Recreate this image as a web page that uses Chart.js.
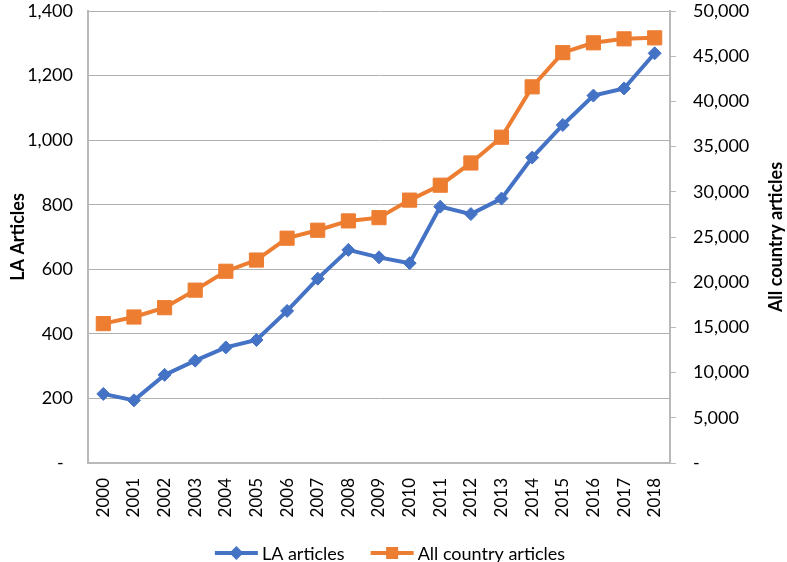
<!DOCTYPE html>
<html>
<head>
<meta charset="utf-8">
<script src="https://cdn.jsdelivr.net/npm/chart.js@4.4.0/dist/chart.umd.min.js"></script>
<style>
  html, body { margin: 0; padding: 0; background: #fff; }
  #wrap { width: 787px; height: 562px; position: relative; }
</style>
</head>
<body>
<div id="wrap"><canvas id="chart"></canvas></div>
<script>
// Publications per year: LA vs all countries.
var years = ['2000', '2001', '2002', '2003', '2004', '2005', '2006', '2007', '2008', '2009',
             '2010', '2011', '2012', '2013', '2014', '2015', '2016', '2017', '2018'];
var laArticles = [214, 194, 273, 317, 358, 381, 471, 571, 660, 637,
                  619, 794, 771, 819, 946, 1047, 1138, 1160, 1269];
var allCountryArticles = [15420, 16150, 17180, 19120, 21210, 22450, 24870, 25750, 26780, 27140,
                          29080, 30730, 33190, 36040, 41610, 45390, 46480, 46920, 47030];
var leftTicks = [0, 200, 400, 600, 800, 1000, 1200, 1400];
var rightTicks = [0, 5000, 10000, 15000, 20000, 25000, 30000, 35000, 40000, 45000, 50000];

var BLUE = '#4472c4';
var ORANGE = '#ed7d31';
var GRID = '#b0b0b0';
var AXIS = '#b9b9b9';
var FONT = 'Lato, "Liberation Sans", sans-serif';

function fmt( v, pad ) {
	if ( v === 0 ) { return pad ? '-  ' : '-'; }
	return v.toLocaleString( 'en-US' );
}

function setTicks( list ) {
	return function ( scale ) {
		scale.ticks = list.map( function ( v ) { return { value: v }; } );
	};
}

// keep the plot area flush with the top, like the Excel original
function fitSide( width ) {
	return function ( s ) {
		s.width = width;
		s.paddingTop = 8;
		s.paddingBottom = 8;
	};
}

// Right axis title reads bottom-to-top, and the legend shows line + marker.
var extras = {
	id: 'extras',
	afterDraw: function ( chart ) {
		var ctx = chart.ctx;
		var area = chart.chartArea;
		ctx.save();
		ctx.fillStyle = '#000';
		ctx.font = 'bold 18px ' + FONT;
		ctx.textAlign = 'center';
		ctx.textBaseline = 'middle';
		ctx.translate( 776, ( area.top + area.bottom ) / 2 );
		ctx.rotate( -Math.PI / 2 );
		ctx.fillText( 'All country articles', 0, 0 );
		ctx.restore();

		ctx.save();
		ctx.font = '18px ' + FONT;
		ctx.textBaseline = 'middle';
		var items = chart.data.datasets;
		var lineW = 43, gap = 4, between = 26;
		var widths = items.map( function ( d ) { return lineW + gap + ctx.measureText( d.label ).width; } );
		var total = widths.reduce( function ( a, b ) { return a + b; }, 0 ) + between * ( items.length - 1 );
		var x = 390 - total / 2;
		var y = 553;
		items.forEach( function ( d, i ) {
			ctx.strokeStyle = d.borderColor;
			ctx.lineWidth = 4;
			ctx.beginPath();
			ctx.moveTo( x, y );
			ctx.lineTo( x + lineW, y );
			ctx.stroke();
			ctx.fillStyle = d.borderColor;
			ctx.beginPath();
			var cx = x + lineW / 2;
			if ( d.pointStyle === 'rectRot' ) {
				ctx.moveTo( cx, y - 7 );
				ctx.lineTo( cx + 7, y );
				ctx.lineTo( cx, y + 7 );
				ctx.lineTo( cx - 7, y );
				ctx.closePath();
			} else {
				ctx.rect( cx - 6, y - 6, 12, 12 );
			}
			ctx.fill();
			ctx.fillStyle = '#000';
			ctx.fillText( d.label, x + lineW + gap, y + 1 );
			x += widths[ i ] + between;
		} );
		ctx.restore();
	}
};

new Chart( document.getElementById( 'chart' ), {
	type: 'line',
	data: {
		labels: years,
		datasets: [
			{
				label: 'LA articles',
				data: laArticles,
				yAxisID: 'y',
				borderColor: BLUE,
				backgroundColor: BLUE,
				borderWidth: 4,
				pointStyle: 'rectRot',
				pointRadius: 6.5,
				pointBorderWidth: 1,
				tension: 0
			},
			{
				label: 'All country articles',
				data: allCountryArticles,
				yAxisID: 'y1',
				borderColor: ORANGE,
				backgroundColor: ORANGE,
				borderWidth: 4,
				pointStyle: 'rect',
				pointRadius: 10,
				pointBorderWidth: 1,
				tension: 0
			}
		]
	},
	options: {
		responsive: true,
		maintainAspectRatio: false,
		animation: false,
		layout: { padding: { top: 0, left: 0, right: 0, bottom: 30 } },
		plugins: {
			legend: { display: false },
			tooltip: { enabled: false }
		},
		scales: {
			x: {
				offset: true,
				grid: { display: false, drawTicks: false },
				border: { display: true, color: AXIS, width: 2 },
				ticks: {
					color: '#000',
					font: { family: FONT, size: 17, lineHeight: 1 },
					minRotation: 90,
					maxRotation: 90,
					padding: 15,
					autoSkip: false
				},
				afterFit: function ( s ) { s.height = 69; }
			},
			y: {
				position: 'left',
				min: 0,
				max: 1400,
				afterBuildTicks: setTicks( leftTicks ),
				grid: { color: GRID, drawTicks: false },
				border: { display: true, color: AXIS, width: 2 },
				ticks: {
					color: '#000',
					font: { family: FONT, size: 18, lineHeight: 1 },
					padding: 15,
					callback: function ( v ) { return fmt( v, true ); }
				},
				title: {
					display: true,
					text: 'LA Articles',
					color: '#000',
					font: { family: FONT, size: 18, weight: 'bold' },
					padding: { top: 7, bottom: 0 }
				},
				afterFit: fitSide( 88 )
			},
			y1: {
				position: 'right',
				min: 0,
				max: 50000,
				afterBuildTicks: setTicks( rightTicks ),
				grid: { drawOnChartArea: false, color: AXIS, tickLength: 6 },
				border: { display: true, color: AXIS, width: 2 },
				ticks: {
					color: '#000',
					font: { family: FONT, size: 18, lineHeight: 1 },
					padding: 17,
					callback: function ( v ) { return fmt( v, false ); }
				},
				afterFit: fitSide( 117 )
			}
		}
	},
	plugins: [ extras ]
} );
</script>
</body>
</html>
